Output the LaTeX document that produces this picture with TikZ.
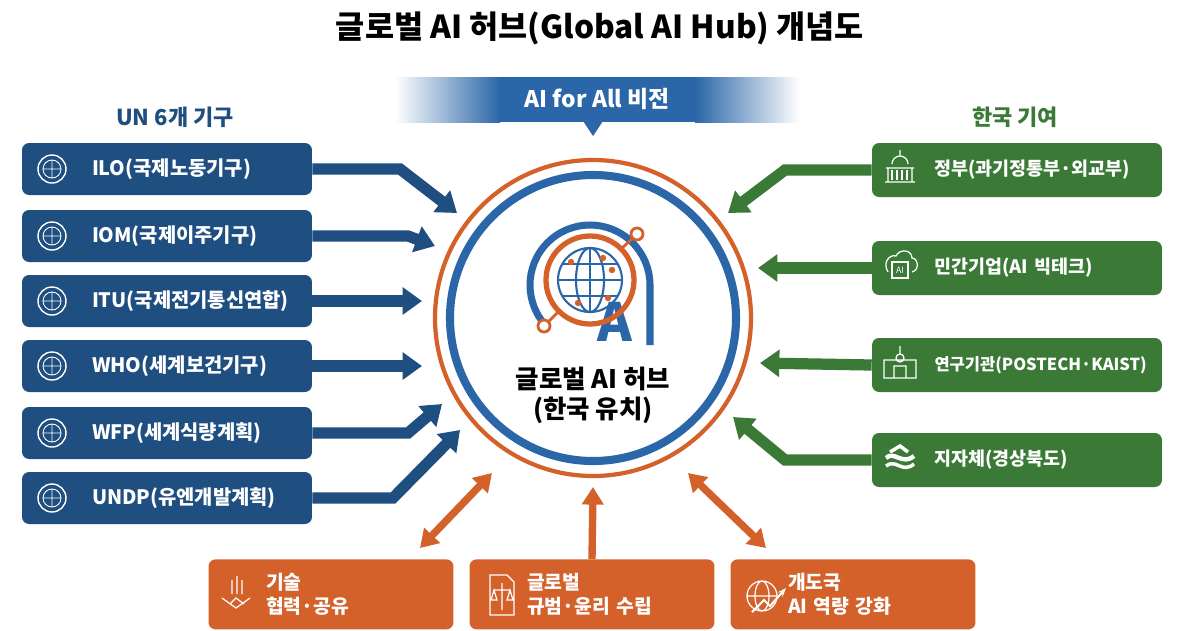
\documentclass[tikz,border=0pt]{standalone}
\usepackage{fontspec}
\setmainfont{Noto Sans CJK KR}
\usetikzlibrary{arrows.meta}
\definecolor{unblue}{HTML}{1F4E80}
\definecolor{hubblue}{HTML}{2A66A8}
\definecolor{krgreen}{HTML}{3A7A36}
\definecolor{orng}{HTML}{D4602A}
\tikzset{
 unbox/.style={fill=unblue,rounded corners=4pt,minimum width=5.8cm,minimum height=1.04cm,text=white,font=\bfseries\fontsize{11.3}{12}\selectfont,align=left,text width=4.1cm,inner xsep=0pt},
 krbox/.style={fill=krgreen,rounded corners=4pt,minimum width=5.8cm,minimum height=1.08cm,text=white,font=\bfseries\fontsize{10.5}{12}\selectfont,align=left,text width=4.6cm,inner xsep=0pt},
 obox/.style={fill=orng,rounded corners=4pt,minimum width=4.9cm,minimum height=1.4cm,text=white,font=\bfseries\fontsize{11}{14}\selectfont,align=left,text width=2.6cm},
 bigarrow/.style={line width=6.4pt,-{Triangle[width=15pt,length=11pt]}},
 dblarrow/.style={line width=4.2pt,orng,{Triangle[width=12pt,length=10pt]}-{Triangle[width=12pt,length=10pt]}},
 ico/.style={white,line width=0.7pt},
}
\begin{document}
\begin{tikzpicture}[x=0.02cm,y=-0.02cm]
\useasboundingbox (0,0) rectangle (1200,630);
\fill[white] (0,0) rectangle (1200,630);
% title
\node[font=\bfseries\fontsize{18}{20}\selectfont] (title) at (600,28) {글로벌 AI 허브(Global AI Hub) 개념도};
% banner
\shade[left color=white,right color=hubblue] (395,77) rectangle (500,122);
\fill[hubblue] (499,77) rectangle (696,122);
\shade[left color=hubblue,right color=white] (695,77) rectangle (800,122);
\fill[hubblue] (583,121) -- (603,121) -- (593,136) -- cycle;
\node[text=white,font=\bfseries\fontsize{13}{15}\selectfont] (vision) at (597,99) {AI for All 비전};
\node[text=unblue,font=\bfseries\fontsize{12.5}{14}\selectfont] (unt) at (175,117) {UN 6개 기구};
\node[text=krgreen,font=\bfseries\fontsize{12.5}{14}\selectfont] (krt) at (1015,117) {한국 기여};
% hub
\coordinate (c) at (593,318);
\draw[orng,line width=2.4pt] (c) circle[radius=158];
\draw[hubblue,line width=4.6pt] (c) circle[radius=143];
% logo
\draw[hubblue,line width=4pt] (590,285)+(135:60) arc[start angle=135,end angle=360,radius=60] -- (650,345);
\node[text=hubblue,font=\bfseries\fontsize{30}{30}\selectfont] (logoA) at (615,322) {A};
\draw[orng,line width=3pt] (590,280) circle[radius=44];
\draw[hubblue,line width=1.2pt] (590,280) circle[radius=32];
\draw[hubblue,line width=1.2pt] (590,280) ellipse[x radius=14,y radius=32];
\draw[hubblue,line width=1.2pt] (558,280) -- (622,280) (590,248) -- (590,312) (563,264) -- (617,264) (563,296) -- (617,296);
\foreach \p in {(571,262),(612,270),(608,298),(578,303),(603,258)} \fill[orng] \p circle[radius=3.2];
\draw[orng,line width=1.6pt] (622,248) -- (633,238); \draw[orng,line width=1.6pt,fill=white] (637,234) circle[radius=6];
\draw[orng,line width=1.6pt] (558,312) -- (548,322); \draw[orng,line width=1.6pt,fill=white] (544,326) circle[radius=6];
\node[font=\bfseries\fontsize{14.5}{17}\selectfont,align=center] (hub) at (593,395) {글로벌 AI 허브\\(한국 유치)};
% UN boxes
\foreach \n/\y/\t in {ilo/169/ILO(국제노동기구),iom/236/IOM(국제이주기구),itu/301/ITU(국제전기통신연합),who/366/WHO(세계보건기구),wfp/433/WFP(세계식량계획),undp/498/UNDP(유엔개발계획)}{
 \node[unbox] (\n) at (167,\y) {\hspace*{0.55cm}\t};
 \draw[white,line width=0.8pt] (52,\y) circle[radius=14];
 \draw[white,line width=0.5pt] (52,\y) circle[radius=9] (43,\y) -- (61,\y) (52,\y-9) -- (52,\y+9);
}
\coordinate (iloT) at (457,213); \coordinate (iomT) at (435,246);
\coordinate (ituT) at (422,301); \coordinate (whoT) at (422,366);
\coordinate (wfpT) at (442,404); \coordinate (undpT) at (460,430);
\draw[bigarrow,unblue] (ilo.east) -- (400,169) -- (iloT);
\draw[bigarrow,unblue] (iom.east) -- (408,236) -- (iomT);
\draw[bigarrow,unblue] (itu.east) -- (ituT);
\draw[bigarrow,unblue] (who.east) -- (whoT);
\draw[bigarrow,unblue] (wfp.east) -- (408,433) -- (wfpT);
\draw[bigarrow,unblue] (undp.east) -- (393,498) -- (undpT);
% KR boxes
\node[krbox] (gov) at (1017,170) {\hspace*{0.65cm}정부(과기정통부·외교부)};
\node[krbox] (biz) at (1017,268) {\hspace*{0.65cm}민간기업(AI 빅테크)};
\node[krbox] (res) at (1017,365) {\hspace*{0.65cm}\fontsize{9.4}{12}\selectfont 연구기관(POSTECH·KAIST)};
\node[krbox] (loc) at (1017,460) {\hspace*{0.65cm}지자체(경상북도)};
% icons right
\draw[ico] (885,182) -- (915,182) (888,182) rectangle (912,168) (886,168) -- (914,168) (892,164) arc[start angle=180,end angle=360,radius=8] (900,156) -- (900,150);
\foreach \xx in {892,897,902,907} \draw[ico] (\xx,170) -- (\xx,180);
\draw[ico] (888,272) .. controls (882,262) and (890,254) .. (896,256) .. controls (900,248) and (912,250) .. (912,258) .. controls (918,258) and (920,270) .. (912,272);
\draw[ico] (892,262) rectangle (908,278); \node[text=white,font=\fontsize{5}{5}\selectfont] (aiico) at (900,270) {AI};
\draw[ico] (884,378) rectangle (916,360) (894,378) -- (894,366) -- (906,366) -- (906,378) (900,358) circle[radius=4] (900,354) -- (900,346);
\draw[white,line width=2.5pt] (886,458) .. controls (894,450) and (902,466) .. (914,456);
\draw[white,line width=2pt] (886,466) .. controls (896,458) and (902,474) .. (914,464);
\draw[white,line width=2pt] (890,452) -- (900,446) -- (908,452);
\coordinate (govT) at (728,213); \coordinate (bizT) at (758,268);
\coordinate (resT) at (760,363); \coordinate (locT) at (733,417);
\draw[bigarrow,krgreen] (gov.west) -- (785,170) -- (govT);
\draw[bigarrow,krgreen] (biz.west) -- (bizT);
\draw[bigarrow,krgreen] (res.west) -- (resT);
\draw[bigarrow,krgreen] (loc.west) -- (785,460) -- (locT);
% bottom boxes
\node[obox,anchor=north] (tech) at (331,559) {기술\\협력·공유};
\node[obox,anchor=north] (norm) at (592,559) {글로벌\\규범·윤리 수립};
\node[obox,anchor=north] (dev) at (853,559) {개도국\\AI 역량 강화};
% bottom icons
\draw[ico] (222,598) -- (236,608) -- (250,598) (230,604) -- (236,598) -- (244,604) (232,594) -- (232,580) (237,594) -- (237,576) (242,594) -- (242,580);
\draw[ico] (490,575) -- (490,615) -- (514,615) -- (514,582) -- (507,575) -- cycle (502,583) -- (502,610) (494,590) -- (510,590) (494,590) -- (491,600) -- (497,600) -- cycle (510,590) -- (507,600) -- (513,600) -- cycle;
\draw[ico] (762,596) circle[radius=15] (762,596) ellipse[x radius=7,y radius=15] (747,596) -- (777,596);
\draw[white,line width=1.2pt,-{Stealth[length=5pt]}] (752,612) -- (764,600) -- (770,606) -- (786,588);
% double arrows
\coordinate (h1) at (492,473); \coordinate (h2) at (593,487); \coordinate (h3) at (688,473);
\draw[dblarrow] (420,548) -- (h1);
\draw[line width=4.2pt,orng,-{Triangle[width=12pt,length=10pt]}] (norm.north) -- (h2);
\draw[dblarrow] (766,548) -- (h3);
\end{tikzpicture}
\end{document}
